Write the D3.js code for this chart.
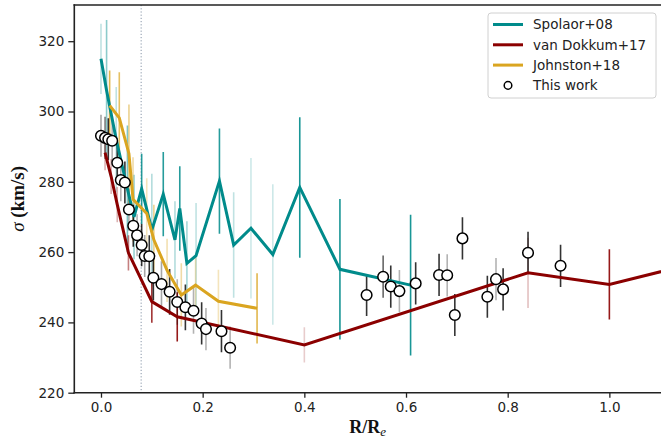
<!DOCTYPE html>
<html>
<head>
<meta charset="utf-8">
<script src="https://cdn.jsdelivr.net/npm/d3@7"></script>
<style>
  html, body { margin: 0; padding: 0; background: #fff; }
  svg { display: block; }
</style>
</head>
<body>
<svg id="chart" width="661" height="443"></svg>
<script>
// ---------------- DATA ----------------
const xTicks = [0.0, 0.2, 0.4, 0.6, 0.8, 1.0];
const yTicks = [220, 240, 260, 280, 300, 320];
const seriesNames = ["Spolaor+08", "van Dokkum+17", "Johnston+18", "This work"];
const dottedR = 0.079;

// Spolaor+08
const spolaorR     = [0.0, 0.011, 0.03, 0.052, 0.065, 0.08, 0.1, 0.1225, 0.1455, 0.155, 0.169, 0.187, 0.233, 0.261, 0.295, 0.338, 0.391, 0.47, 0.609];
const spolaorSigma = [315, 306, 292, 278, 270, 278, 266.3, 276.5, 263.5, 272.4, 256.8, 259, 280.2, 262, 266.8, 259.3, 278.4, 255.1, 250.6];
const spolaorErr   = [10, 20, 15, 18, 12, 10, 16, 12, 11, 12, 12, 15, 15, 15, 20, 20, 20, 20, 20];
const spolaorAlpha = [0.25, 0.45, 0.25, 0.5, 0.4, 0.85, 0.3, 0.85, 0.3, 0.85, 0.35, 0.25, 0.85, 0.25, 0.2, 0.2, 0.9, 0.9, 0.9];

// van Dokkum+17
const dokkumR     = [0.008, 0.02, 0.032, 0.054, 0.1, 0.15, 0.4, 0.84, 1.0, 1.2];
const dokkumSigma = [288.3, 281.5, 273.5, 259.8, 245.9, 241.6, 233.6, 254.1, 250.8, 258];
const dokkumErr   = [5, 5, 5, 5, 6, 7, 5, 10, 10, 10];
const dokkumAlpha = [0.3, 0.3, 0.3, 0.5, 0.8, 0.9, 0.2, 0.25, 0.9, 0.5];

// Johnston+18
const johnstonR     = [0.017, 0.036, 0.055, 0.063, 0.09, 0.104, 0.13, 0.158, 0.186, 0.231, 0.307];
const johnstonSigma = [301.7, 298.2, 288, 275, 271, 263.5, 254.8, 247.8, 250.6, 246, 244];
const johnstonErr   = [10, 13, 14, 12, 10, 10, 9, 9, 8.5, 9, 10];
const johnstonAlpha = [0.8, 0.7, 0.5, 0.4, 0.3, 0.5, 0.35, 0.4, 0.3, 0.3, 0.8];

// This work
const workR     = [0.0, 0.008, 0.0144, 0.022, 0.032, 0.039, 0.047, 0.055, 0.0635, 0.071, 0.08, 0.086, 0.095, 0.103, 0.119, 0.135, 0.15, 0.166, 0.182, 0.198, 0.2065, 0.237, 0.254, 0.5225, 0.555, 0.570, 0.587, 0.619, 0.665, 0.681, 0.696, 0.711, 0.760, 0.777, 0.791, 0.840, 0.904];
const workSigma = [293.1, 292.5, 292.1, 291.7, 285.4, 280.5, 279.8, 272.1, 267.5, 264.8, 262.0, 258.9, 258.8, 252.7, 250.9, 248.7, 245.8, 244.3, 243.3, 239.7, 238.1, 237.5, 232.8, 247.8, 253.0, 250.2, 248.9, 251.1, 253.5, 253.4, 242.1, 263.9, 247.3, 252.3, 249.4, 259.8, 256.1];
const workErr   = [6, 6, 6, 6, 6, 6, 6, 6, 6, 6, 6, 6, 6, 6.5, 6.5, 6.5, 6.5, 6.5, 6.5, 6, 6, 6, 6, 6, 6, 6, 6, 6, 6, 6, 6, 6, 6, 6, 6, 6, 6];
const workAlpha = [0.35, 0.5, 0.8, 0.3, 0.8, 0.3, 0.8, 0.3, 0.8, 0.3, 0.8, 0.35, 0.8, 0.8, 0.35, 0.8, 0.3, 0.8, 0.3, 0.8, 0.3, 0.8, 0.3, 0.8, 0.6, 0.8, 0.3, 0.8, 0.8, 0.3, 0.8, 0.8, 0.8, 0.3, 0.8, 0.8, 0.8];

// ---------------- LAYOUT ----------------
const svg = d3.select("#chart");
const L = 74.3, T = 5, R = 663, B = 392.7;
const x = d3.scaleLinear().domain([-0.0525, 1.1055]).range([L, R]);
const y = d3.scaleLinear().domain([220, 330.3]).range([B, T]);

const colors = { spolaor: "#008b8b", dokkum: "#8b0000", johnston: "#daa520", work: "#000000" };
const tickFont = "DejaVu Sans, sans-serif";
const labelFont = "'Liberation Serif', 'Times New Roman', serif";

svg.append("defs").append("clipPath").attr("id", "plotclip")
  .append("rect").attr("x", L).attr("y", T).attr("width", R - L).attr("height", B - T);

const plot = svg.append("g").attr("clip-path", "url(#plotclip)");

// dotted vertical reference line
plot.append("line")
  .attr("x1", x(dottedR)).attr("x2", x(dottedR))
  .attr("y1", T).attr("y2", B)
  .attr("stroke", "#8796a8").attr("stroke-width", 1)
  .attr("stroke-dasharray", "1.2,2");

function zipSeries(rs, ss, es, as) {
  return rs.map((r, i) => ({ r: r, s: ss[i], e: es[i], a: as[i] }));
}
const spolaor = zipSeries(spolaorR, spolaorSigma, spolaorErr, spolaorAlpha);
const dokkum = zipSeries(dokkumR, dokkumSigma, dokkumErr, dokkumAlpha);
const johnston = zipSeries(johnstonR, johnstonSigma, johnstonErr, johnstonAlpha);
const work = zipSeries(workR, workSigma, workErr, workAlpha);

function errorBars(data, color, width) {
  plot.append("g").selectAll("line").data(data).join("line")
    .attr("x1", d => x(d.r)).attr("x2", d => x(d.r))
    .attr("y1", d => y(d.s - d.e)).attr("y2", d => y(d.s + d.e))
    .attr("stroke", color).attr("stroke-width", width)
    .attr("stroke-opacity", d => d.a);
}
errorBars(spolaor, colors.spolaor, 1.6);
errorBars(dokkum, colors.dokkum, 1.6);
errorBars(johnston, colors.johnston, 1.6);
errorBars(work, colors.work, 1.6);

const lineGen = d3.line().x(d => x(d.r)).y(d => y(d.s));
function drawLine(data, color) {
  plot.append("path").datum(data)
    .attr("d", lineGen)
    .attr("fill", "none").attr("stroke", color)
    .attr("stroke-width", 3).attr("stroke-linejoin", "miter");
}
drawLine(spolaor, colors.spolaor);
drawLine(dokkum, colors.dokkum);
drawLine(johnston, colors.johnston);

plot.append("g").selectAll("circle").data(work).join("circle")
  .attr("cx", d => x(d.r)).attr("cy", d => y(d.s)).attr("r", 5.3)
  .attr("fill", "#fff").attr("stroke", "#000").attr("stroke-width", 1.5);

// ---------------- AXES ----------------
const xAxis = svg.append("g").attr("transform", `translate(0,${B})`)
  .call(d3.axisBottom(x).tickValues(xTicks).tickFormat(d3.format(".1f")).tickSize(5).tickPadding(5).tickSizeOuter(0));
const yAxis = svg.append("g").attr("transform", `translate(${L},0)`)
  .call(d3.axisLeft(y).tickValues(yTicks).tickFormat(d3.format("d")).tickSize(6).tickPadding(4).tickSizeOuter(0));
[xAxis, yAxis].forEach(g => {
  g.select(".domain").remove();
  g.selectAll(".tick line").attr("stroke", "#222").attr("stroke-width", 1.3);
  g.selectAll(".tick text").attr("font-family", tickFont).attr("font-size", "13.5px").attr("fill", "#222");
});

// spines
const spines = svg.append("g").attr("stroke", "#222").attr("stroke-width", 1.6).attr("stroke-linecap", "square");
spines.append("line").attr("x1", L).attr("x2", L).attr("y1", T).attr("y2", B);
spines.append("line").attr("x1", L).attr("x2", R).attr("y1", B).attr("y2", B);
spines.append("line").attr("x1", L).attr("x2", R).attr("y1", T).attr("y2", T);
spines.append("line").attr("x1", R).attr("x2", R).attr("y1", T).attr("y2", B);

// axis labels
const xl = svg.append("text")
  .attr("x", (L + 661) / 2).attr("y", 433)
  .attr("text-anchor", "middle")
  .attr("font-family", labelFont).attr("font-size", "18px").attr("font-weight", "bold").attr("fill", "#111");
xl.append("tspan").text("R/R");
xl.append("tspan").attr("font-style", "italic").attr("font-weight", "normal").attr("font-size", "13px").attr("dy", "3").text("e");

const yl = svg.append("text")
  .attr("transform", `translate(24,${(T + B) / 2}) rotate(-90)`)
  .attr("text-anchor", "middle")
  .attr("font-family", labelFont).attr("font-size", "19px").attr("font-weight", "bold").attr("fill", "#111");
yl.append("tspan").attr("font-style", "italic").attr("font-weight", "normal").text("σ");
yl.append("tspan").text(" (km/s)");

// ---------------- LEGEND ----------------
const lg = svg.append("g");
lg.append("rect").attr("x", 488).attr("y", 13).attr("width", 168).attr("height", 85).attr("rx", 3)
  .attr("fill", "#fff").attr("fill-opacity", 0.85).attr("stroke", "#d0d0d0").attr("stroke-width", 1);
const legendColors = [colors.spolaor, colors.dokkum, colors.johnston, null];
seriesNames.forEach((name, i) => {
  const cy = 24.5 + i * 20.3;
  if (legendColors[i]) {
    lg.append("line").attr("x1", 493).attr("x2", 523).attr("y1", cy).attr("y2", cy)
      .attr("stroke", legendColors[i]).attr("stroke-width", 3);
  } else {
    lg.append("circle").attr("cx", 508).attr("cy", cy).attr("r", 3.8)
      .attr("fill", "#fff").attr("stroke", "#000").attr("stroke-width", 1.5);
  }
  lg.append("text").attr("x", 533).attr("y", cy).attr("dy", "0.35em")
    .attr("font-family", tickFont).attr("font-size", "13.5px").attr("fill", "#222").text(name);
});
</script>
</body>
</html>
